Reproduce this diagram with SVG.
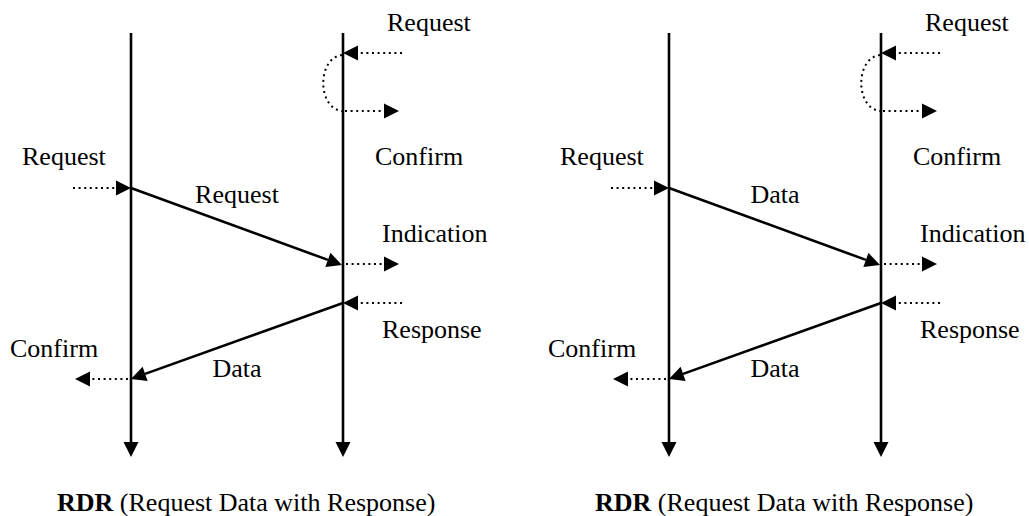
<svg xmlns="http://www.w3.org/2000/svg" width="1029" height="516" viewBox="0 0 1029 516" font-family="'Liberation Serif', 'Times New Roman', 'DejaVu Serif', serif">
<style>
text{font-family:'Liberation Serif','Times New Roman','DejaVu Serif',serif;font-size:26px;fill:#000}
.life{stroke:#000;stroke-width:2.6;fill:none;marker-end:url(#ah)}
.msg{stroke:#000;stroke-width:2.6;fill:none;marker-end:url(#ah)}
.dot{stroke:#000;stroke-width:2;stroke-dasharray:2 3.6;fill:none}
.dota{stroke:#000;stroke-width:2;stroke-dasharray:2 3.6;fill:none;marker-end:url(#ah)}
.mid{text-anchor:middle}
</style>
<defs>
<marker id="ah" markerUnits="userSpaceOnUse" markerWidth="16" markerHeight="16" refX="0" refY="7.5" orient="auto" overflow="visible">
<path d="M0,0 L15,7.5 L0,15 Z" fill="#000"/>
</marker>
</defs>
<rect width="1029" height="516" fill="#fff"/>

<g id="rdr-left">
  <g id="lifeline-left-a"><line class="life" x1="131" y1="33" x2="131" y2="442"/></g>
  <g id="lifeline-left-b"><line class="life" x1="343" y1="33" x2="343" y2="442"/></g>
  <g id="connectors-left">
    <line class="dota" x1="402" y1="53" x2="358" y2="53"/>
    <path class="dot" d="M342,55 C317,58 317,108 342,111"/>
    <line class="dota" x1="345" y1="111" x2="384" y2="111"/>
    <line class="dota" x1="73" y1="188" x2="116" y2="188"/>
    <line class="msg" x1="131" y1="188" x2="327.9" y2="259.9"/>
    <line class="dota" x1="346" y1="264" x2="384" y2="264"/>
    <line class="dota" x1="402" y1="303" x2="358" y2="303"/>
    <line class="msg" x1="343" y1="303" x2="145.1" y2="373.9"/>
    <line class="dota" x1="128" y1="379" x2="90" y2="379"/>
  </g>
  <g id="labels-left">
    <text x="387" y="31">Request</text>
    <text x="375" y="165">Confirm</text>
    <text x="22" y="165">Request</text>
    <text class="mid" x="237" y="203">Request</text>
    <text x="382" y="242">Indication</text>
    <text x="382" y="338">Response</text>
    <text x="10" y="357">Confirm</text>
    <text class="mid" x="237" y="377">Data</text>
    <text x="57" y="511"><tspan font-weight="bold">RDR</tspan> (Request Data with Response)</text>
  </g>
</g>

<g id="rdr-right" transform="translate(538,0)">
  <g id="lifeline-right-a"><line class="life" x1="131" y1="33" x2="131" y2="442"/></g>
  <g id="lifeline-right-b"><line class="life" x1="343" y1="33" x2="343" y2="442"/></g>
  <g id="connectors-right">
    <line class="dota" x1="402" y1="53" x2="358" y2="53"/>
    <path class="dot" d="M342,55 C317,58 317,108 342,111"/>
    <line class="dota" x1="345" y1="111" x2="384" y2="111"/>
    <line class="dota" x1="73" y1="188" x2="116" y2="188"/>
    <line class="msg" x1="131" y1="188" x2="327.9" y2="259.9"/>
    <line class="dota" x1="346" y1="264" x2="384" y2="264"/>
    <line class="dota" x1="402" y1="303" x2="358" y2="303"/>
    <line class="msg" x1="343" y1="303" x2="145.1" y2="373.9"/>
    <line class="dota" x1="128" y1="379" x2="90" y2="379"/>
  </g>
  <g id="labels-right">
    <text x="387" y="31">Request</text>
    <text x="375" y="165">Confirm</text>
    <text x="22" y="165">Request</text>
    <text class="mid" x="237" y="203">Data</text>
    <text x="382" y="242">Indication</text>
    <text x="382" y="338">Response</text>
    <text x="10" y="357">Confirm</text>
    <text class="mid" x="237" y="377">Data</text>
    <text x="57" y="511"><tspan font-weight="bold">RDR</tspan> (Request Data with Response)</text>
  </g>
</g>
</svg>
